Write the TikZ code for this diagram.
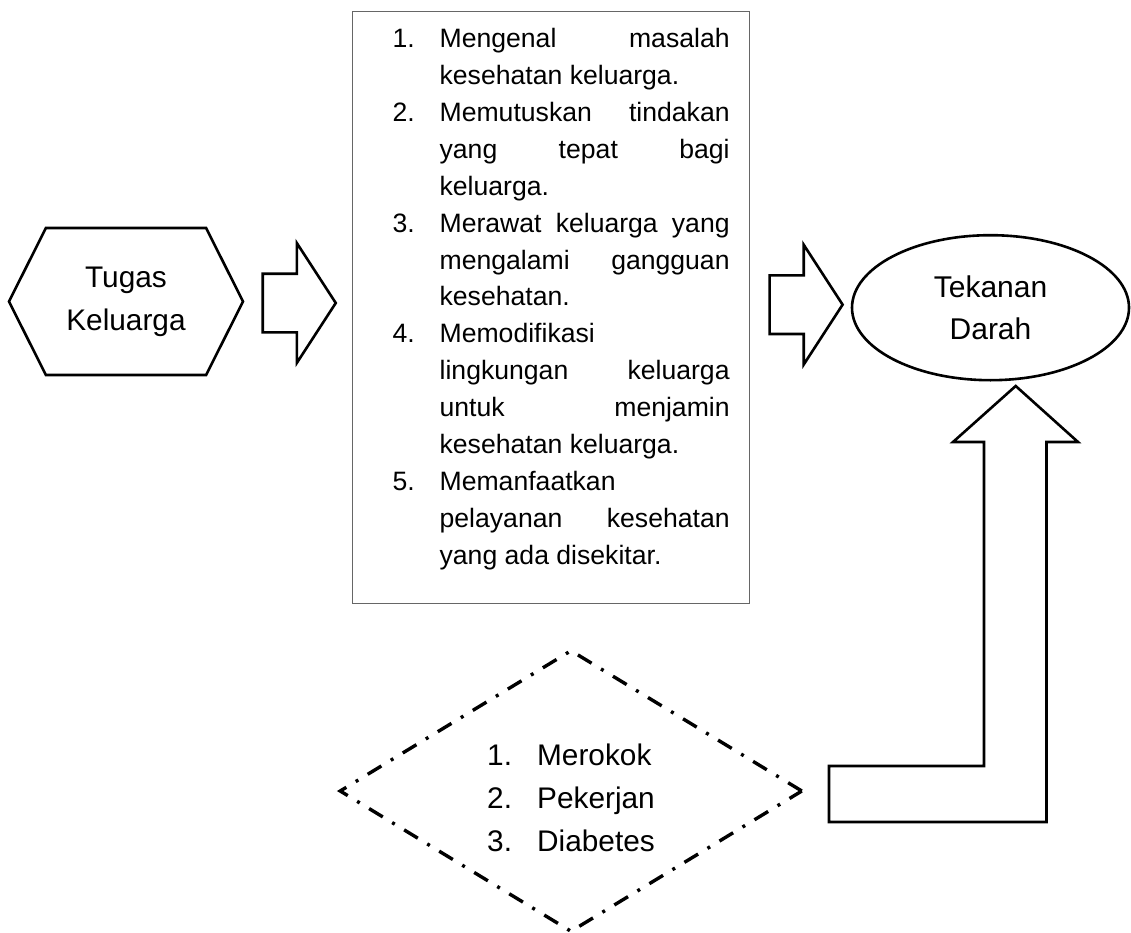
\documentclass[tikz,border=0pt]{standalone}
\usepackage{fontspec}
\setmainfont{Liberation Sans}
\usetikzlibrary{positioning, shapes.geometric, shapes.arrows, shapes.symbols}

% one numbered item of the list box, hanging indent after the number
\newcommand{\tugasitem}[2]{\noindent\hangindent=67pt\hangafter=1
    \hspace*{20pt}\makebox[47pt][l]{#1}#2\par}

\begin{document}
\begin{tikzpicture}[
    x=1pt, y=-1pt,
    hexbox/.style={signal, signal to=west and east, signal pointer angle=126.7,
                   draw, line width=2.6pt, minimum width=234pt,
                   minimum height=147pt, inner sep=0pt, align=center,
                   font=\fontsize{29.8}{42.7}\selectfont},
    listbox/.style={draw=black!60, line width=1.3pt, text width=357pt,
                    inner xsep=20pt, inner ysep=17pt, text height=19pt,
                    text depth=539pt, align=justify,
                    font=\fontsize{26.6}{36.9}\selectfont},
    endbox/.style={ellipse, draw, line width=2.6pt, minimum width=277pt,
                   minimum height=145pt, inner sep=0pt, align=center,
                   font=\fontsize{30}{42.7}\selectfont},
    riskbox/.style={diamond, draw, line width=3.4pt,
                    dash pattern=on 16pt off 11pt on 3pt off 11pt,
                    aspect=1.637, minimum width=463pt, minimum height=282pt,
                    inner sep=0pt, align=left,
                    font=\fontsize{29.8}{42.8}\selectfont},
    flowarrow/.style={single arrow, draw, line width=2.6pt,
                      minimum height=73pt, inner xsep=0pt, inner ysep=28pt,
                      single arrow head extend=30.5pt,
                      single arrow tip angle=114},
    bentarrow/.style={draw, line width=2.6pt, line join=miter},
]
\useasboundingbox (0,0) rectangle (1131,933);

% --- left: Tugas Keluarga ---
\node[hexbox] (tugas) at (126,301.5) {Tugas\\Keluarga};

\node[flowarrow, right=17pt of tugas, yshift=-1.5pt] (arrA) {};

% --- centre: the five tasks ---
\node[listbox, anchor=north west] (tasks) at (352,11) {%
    \tolerance=10000\hyphenpenalty=10000\parskip=0pt%
    \tugasitem{1.}{Mengenal masalah\linebreak kesehatan keluarga.}%
    \tugasitem{2.}{Memutuskan tindakan\linebreak yang tepat bagi\linebreak keluarga.}%
    \tugasitem{3.}{Merawat keluarga yang\linebreak mengalami gangguan\linebreak kesehatan.}%
    \tugasitem{4.}{Memodifikasi\linebreak lingkungan keluarga\linebreak untuk menjamin\linebreak kesehatan keluarga.}%
    \tugasitem{5.}{Memanfaatkan\linebreak pelayanan kesehatan\linebreak yang ada disekitar.}%
};

\node[flowarrow, right=18pt of tasks, yshift=3pt] (arrB) {};

% --- right: Tekanan Darah ---
\node[endbox] (darah) at (990.5,307.7) {Tekanan\\Darah};

% --- bottom: other factors ---
\node[riskbox] (faktor) at (571,791) {%
    \rule{0pt}{35pt}\makebox[50pt][l]{1.}Merokok\\
    \makebox[50pt][l]{2.}Pekerjan\\
    \makebox[50pt][l]{3.}Diabetes};

% bent arrow from the factors up to Tekanan Darah
\draw[bentarrow] (829,766) -- (984,766) -- (984,442) -- (953,442)
    -- (1015.7,386) -- (1078,442) -- (1046.5,442) -- (1046.5,822)
    -- (829,822) -- cycle;

\end{tikzpicture}
\end{document}
